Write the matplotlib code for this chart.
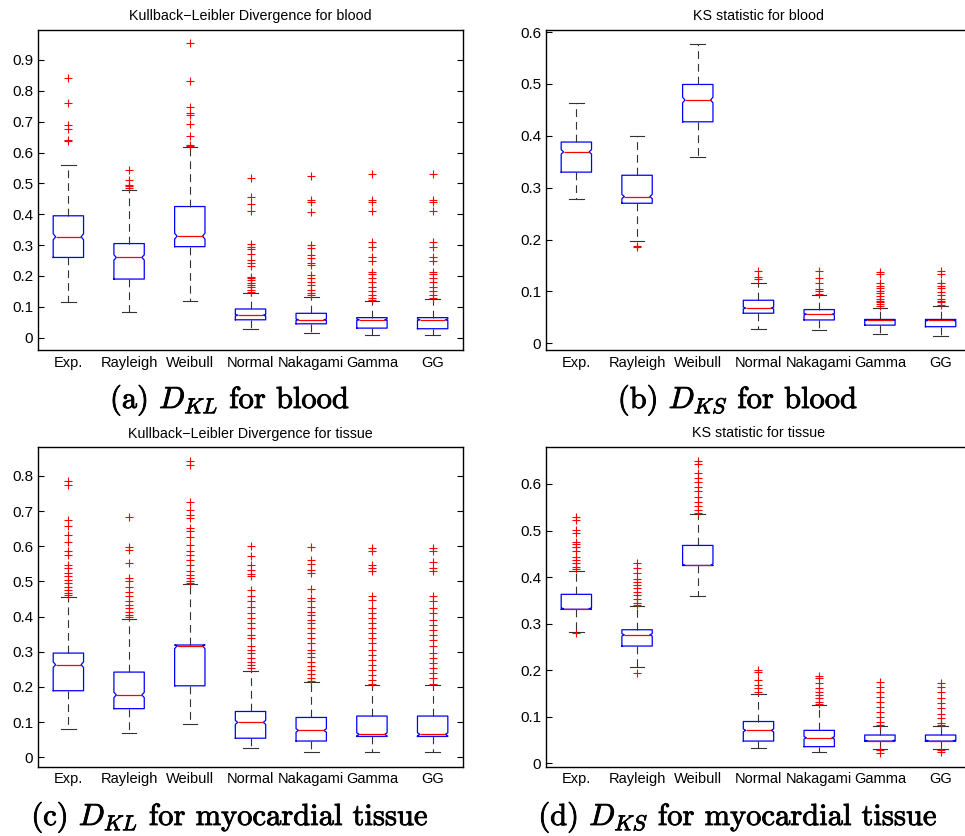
import numpy as np
import matplotlib
matplotlib.use('Agg')
import matplotlib.pyplot as plt
import matplotlib.patheffects as pe
from matplotlib.ticker import FuncFormatter

plt.rcParams['font.family'] = ['Liberation Sans', 'DejaVu Sans']
plt.rcParams['mathtext.fontset'] = 'cm'

labels = ['Exp.', 'Rayleigh', 'Weibull', 'Normal', 'Nakagami', 'Gamma', 'GG']
n_samples = 450  # used for the notch size (MATLAB style 1.57*IQR/sqrt(n))

# (a) KL divergence, blood
kl_blood_q1 = [0.260, 0.190, 0.295, 0.058, 0.045, 0.031, 0.029]
kl_blood_med = [0.327, 0.260, 0.329, 0.073, 0.058, 0.058, 0.058]
kl_blood_q3 = [0.395, 0.305, 0.425, 0.093, 0.079, 0.065, 0.065]
kl_blood_lo = [0.117, 0.084, 0.119, 0.029, 0.016, 0.009, 0.009]
kl_blood_hi = [0.559, 0.479, 0.617, 0.144, 0.131, 0.119, 0.126]
kl_blood_out = [
    [0.840, 0.762, 0.688, 0.677, 0.642, 0.637],
    [0.545, 0.512, 0.496, 0.491, 0.485],
    [0.954, 0.832, 0.748, 0.729, 0.720, 0.694, 0.653, 0.624, 0.620],
    [0.519, 0.456, 0.433, 0.410, 0.304, 0.295, 0.287, 0.272, 0.253, 0.242, 0.231,
     0.198, 0.192, 0.187, 0.177, 0.170, 0.164, 0.155, 0.149],
    [0.523, 0.445, 0.440, 0.407, 0.301, 0.290, 0.269, 0.258, 0.242, 0.236, 0.204,
     0.193, 0.182, 0.171, 0.155, 0.144, 0.139],
    [0.529, 0.447, 0.440, 0.409, 0.310, 0.294, 0.261, 0.250, 0.214, 0.207, 0.193,
     0.179, 0.164, 0.152, 0.139, 0.130, 0.122],
    [0.529, 0.447, 0.440, 0.409, 0.310, 0.294, 0.261, 0.250, 0.214, 0.207, 0.193,
     0.179, 0.164, 0.152, 0.139, 0.130],
]

# (b) KS statistic, blood
ks_blood_q1 = [0.330, 0.270, 0.427, 0.058, 0.045, 0.035, 0.032]
ks_blood_med = [0.369, 0.283, 0.469, 0.068, 0.056, 0.045, 0.044]
ks_blood_q3 = [0.388, 0.324, 0.499, 0.083, 0.065, 0.046, 0.046]
ks_blood_lo = [0.278, 0.197, 0.359, 0.028, 0.026, 0.017, 0.014]
ks_blood_hi = [0.464, 0.399, 0.577, 0.117, 0.093, 0.068, 0.071]
ks_blood_out = [
    [],
    [0.188, 0.186],
    [],
    [0.140, 0.128, 0.124],
    [0.140, 0.125, 0.117, 0.105, 0.100, 0.095],
    [0.137, 0.134, 0.117, 0.111, 0.106, 0.101, 0.096, 0.092, 0.086, 0.082, 0.079,
     0.075, 0.071],
    [0.139, 0.134, 0.117, 0.111, 0.106, 0.098, 0.093, 0.086, 0.082, 0.079, 0.074],
]

# (c) KL divergence, tissue
kl_tissue_q1 = [0.189, 0.138, 0.203, 0.054, 0.046, 0.059, 0.059]
kl_tissue_med = [0.263, 0.177, 0.317, 0.099, 0.076, 0.065, 0.065]
kl_tissue_q3 = [0.296, 0.242, 0.319, 0.130, 0.113, 0.117, 0.117]
kl_tissue_lo = [0.080, 0.068, 0.094, 0.026, 0.016, 0.014, 0.014]
kl_tissue_hi = [0.456, 0.394, 0.493, 0.244, 0.215, 0.205, 0.205]
kl_tissue_out = [
    [0.786, 0.774, 0.675, 0.656, 0.632, 0.613, 0.585, 0.575, 0.547, 0.537, 0.523,
     0.514, 0.504, 0.495, 0.485, 0.476, 0.466, 0.460],
    [0.684, 0.599, 0.590, 0.552, 0.509, 0.500, 0.485, 0.471, 0.457, 0.443, 0.433,
     0.424, 0.414, 0.405, 0.400],
    [0.841, 0.831, 0.727, 0.703, 0.689, 0.680, 0.651, 0.642, 0.627, 0.604, 0.585,
     0.575, 0.561, 0.547, 0.528, 0.518, 0.509, 0.500, 0.495],
    [0.601, 0.573, 0.547, 0.533, 0.521, 0.514, 0.476, 0.457, 0.443, 0.428, 0.409,
     0.395, 0.381, 0.367, 0.348, 0.338, 0.315, 0.305, 0.296, 0.282, 0.272, 0.263,
     0.253],
    [0.597, 0.561, 0.550, 0.533, 0.523, 0.478, 0.452, 0.443, 0.428, 0.414, 0.405,
     0.391, 0.381, 0.367, 0.353, 0.338, 0.324, 0.305, 0.296, 0.284, 0.272, 0.260,
     0.248, 0.237, 0.225, 0.218],
    [0.596, 0.585, 0.547, 0.537, 0.528, 0.457, 0.447, 0.424, 0.409, 0.395, 0.381,
     0.367, 0.353, 0.338, 0.324, 0.305, 0.291, 0.277, 0.263, 0.248, 0.234, 0.220,
     0.209],
    [0.594, 0.585, 0.556, 0.537, 0.528, 0.457, 0.443, 0.424, 0.409, 0.391, 0.376,
     0.362, 0.348, 0.334, 0.315, 0.296, 0.282, 0.267, 0.253, 0.239, 0.225, 0.209],
]

# (d) KS statistic, tissue
ks_tissue_q1 = [0.331, 0.252, 0.425, 0.048, 0.036, 0.048, 0.048]
ks_tissue_med = [0.332, 0.276, 0.425, 0.071, 0.055, 0.049, 0.049]
ks_tissue_q3 = [0.363, 0.287, 0.468, 0.090, 0.071, 0.061, 0.061]
ks_tissue_lo = [0.282, 0.208, 0.359, 0.034, 0.024, 0.030, 0.030]
ks_tissue_hi = [0.414, 0.338, 0.535, 0.150, 0.126, 0.080, 0.080]
ks_tissue_out = [
    [0.528, 0.523, 0.501, 0.494, 0.476, 0.471, 0.465, 0.455, 0.444, 0.437, 0.430,
     0.422, 0.417, 0.279],
    [0.430, 0.419, 0.408, 0.397, 0.390, 0.383, 0.376, 0.369, 0.362, 0.354, 0.345,
     0.340, 0.195],
    [0.650, 0.642, 0.623, 0.612, 0.605, 0.594, 0.585, 0.573, 0.562, 0.553, 0.544,
     0.537],
    [0.200, 0.197, 0.179, 0.168, 0.161, 0.154],
    [0.188, 0.183, 0.172, 0.161, 0.154, 0.147, 0.140, 0.132, 0.127],
    [0.175, 0.165, 0.154, 0.143, 0.132, 0.122, 0.111, 0.100, 0.090, 0.082, 0.029,
     0.023],
    [0.172, 0.165, 0.154, 0.140, 0.129, 0.118, 0.107, 0.097, 0.086, 0.082, 0.029,
     0.025],
]


def draw_panel(ax, q1, med, q3, lo, hi, out, title, ylim, ymax_tick):
    stats = []
    for i in range(len(labels)):
        half = 1.57 * (q3[i] - q1[i]) / np.sqrt(n_samples)
        stats.append(dict(med=med[i], q1=q1[i], q3=q3[i], whislo=lo[i], whishi=hi[i],
                          fliers=out[i],
                          cilo=max(q1[i], med[i] - half),
                          cihi=min(q3[i], med[i] + half)))
    pos = np.arange(1, len(labels) + 1)
    w = 0.5
    res = ax.bxp(stats, positions=pos, widths=w, capwidths=0.24, shownotches=True,
                 manage_ticks=False,
                 boxprops=dict(color='blue', lw=0.9),
                 medianprops=dict(color='red', lw=0.9),
                 whiskerprops=dict(color='#333333', lw=0.8, linestyle=(0, (7, 4.5))),
                 capprops=dict(color='#333333', lw=0.8),
                 flierprops=dict(marker='+', markeredgecolor='red', markersize=6,
                                 markeredgewidth=0.8, linestyle='none'))
    # shallower notch, like matlab
    inset = w * 0.5 * 0.84
    for p, box, mline in zip(pos, res['boxes'], res['medians']):
        x = np.array(box.get_xdata(), dtype=float)
        x[3] = p + inset
        x[8] = p - inset
        box.set_xdata(x)
        mline.set_xdata([p - inset, p + inset])

    ax.set_xlim(0.5, 7.5)
    ax.set_ylim(*ylim)
    ax.set_xticks(pos)
    ax.set_xticklabels(labels)
    ax.set_yticks(np.round(np.arange(0, ymax_tick + 0.001, 0.1), 1))
    ax.yaxis.set_major_formatter(FuncFormatter(lambda v, p: '%g' % v))
    ax.tick_params(axis='y', direction='in', length=4, width=0.8, right=True,
                   labelsize=11, pad=3.5)
    ax.tick_params(axis='x', length=0, labelsize=10.5, pad=4)
    for s in ax.spines.values():
        s.set_linewidth(1.0)
    ax.set_title(title, fontsize=10.3, pad=7)


fig = plt.figure(figsize=(9.65, 8.36), dpi=100)
ax_a = fig.add_axes([0.0394, 0.5813, 0.4404, 0.3828])
ax_b = fig.add_axes([0.5658, 0.5813, 0.4404, 0.3828])
ax_c = fig.add_axes([0.0394, 0.0829, 0.4404, 0.3820])
ax_d = fig.add_axes([0.5658, 0.0829, 0.4404, 0.3828])

draw_panel(ax_a, kl_blood_q1, kl_blood_med, kl_blood_q3, kl_blood_lo, kl_blood_hi,
           kl_blood_out, 'Kullback\u2212Leibler Divergence for blood', (-0.04, 0.997), 0.9)
draw_panel(ax_b, ks_blood_q1, ks_blood_med, ks_blood_q3, ks_blood_lo, ks_blood_hi,
           ks_blood_out, 'KS statistic for blood', (-0.013, 0.604), 0.6)
draw_panel(ax_c, kl_tissue_q1, kl_tissue_med, kl_tissue_q3, kl_tissue_lo, kl_tissue_hi,
           kl_tissue_out, 'Kullback\u2212Leibler Divergence for tissue', (-0.027, 0.881), 0.8)
draw_panel(ax_d, ks_tissue_q1, ks_tissue_med, ks_tissue_q3, ks_tissue_lo, ks_tissue_hi,
           ks_tissue_out, 'KS statistic for tissue', (-0.007, 0.680), 0.6)

# captions look a bit heavy in the original, thicken with a thin stroke
cap_kw = dict(fontsize=22, family='cmr10', ha='center', va='baseline',
              path_effects=[pe.withStroke(linewidth=0.6, foreground='black')])
fig.text(230 / 965, 1 - 408 / 836, r'(a) $D_{KL}$ for blood', **cap_kw)
fig.text(738 / 965, 1 - 408 / 836, r'(b) $D_{KS}$ for blood', **cap_kw)
fig.text(230 / 965, 1 - 825 / 836, r'(c) $D_{KL}$ for myocardial tissue', **cap_kw)
fig.text(738 / 965, 1 - 825 / 836, r'(d) $D_{KS}$ for myocardial tissue', **cap_kw)

fig.savefig('out.png', dpi=100)
